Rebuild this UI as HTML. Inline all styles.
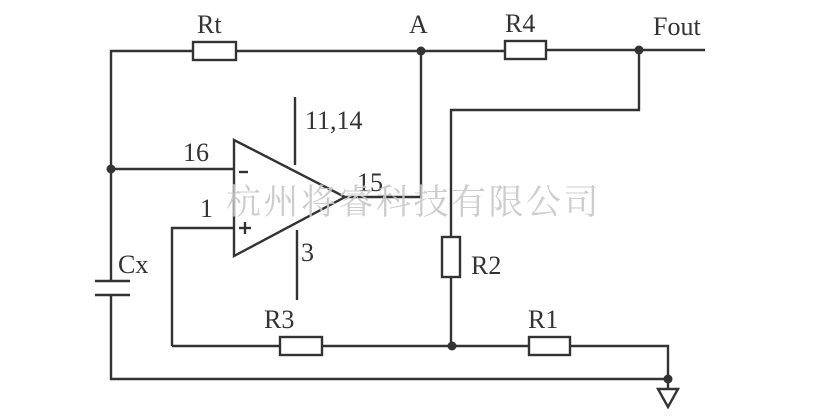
<!DOCTYPE html>
<html><head><meta charset="utf-8"><style>
body{margin:0;background:#fff;width:829px;height:413px;overflow:hidden}
text{font-family:"Liberation Serif",serif;fill:#333}
</style></head><body>
<svg width="829" height="413" viewBox="0 0 829 413" xmlns="http://www.w3.org/2000/svg">
<g stroke="#333" stroke-width="2.4" fill="none">
<polyline points="111,281 111,51 193,51"/>
<polyline points="236,51 505,51"/>
<polyline points="546,50 705,50"/>
<polyline points="639,50 639,110 451,110 451,237"/>
<polyline points="451,277 451,346"/>
<polyline points="172,346 280,346"/>
<polyline points="322,346 529,346"/>
<polyline points="570,346 668,346 668,388"/>
<polyline points="111,295 111,379 668,379"/>
<polyline points="172,346 172,228 234,228"/>
<polyline points="111,169 234,169"/>
<polygon points="234,140 234,256 345,197"/>
<polyline points="345,197 421,197 421,51"/>
<line x1="295" y1="97" x2="295" y2="165"/>
<line x1="297" y1="230" x2="297" y2="300"/>
<line x1="95" y1="281" x2="130" y2="281"/>
<line x1="95" y1="295" x2="130" y2="295"/>
<rect x="193" y="42" width="43" height="18" fill="#fff"/>
<rect x="505" y="41" width="41" height="18" fill="#fff"/>
<rect x="280" y="337" width="42" height="18" fill="#fff"/>
<rect x="529" y="337" width="41" height="18" fill="#fff"/>
<rect x="442" y="237" width="18" height="40" fill="#fff"/>
<polygon points="658,389 678,389 668,407" fill="#fff"/>
<line x1="239" y1="172" x2="248" y2="172"/>
<line x1="239" y1="228" x2="251" y2="228"/>
<line x1="245" y1="222" x2="245" y2="234"/>
</g>
<g fill="#333">
<circle cx="111" cy="169" r="4.5"/>
<circle cx="421" cy="51" r="4.5"/>
<circle cx="639" cy="50" r="4.5"/>
<circle cx="452" cy="346" r="4.5"/>
<circle cx="668" cy="379" r="4.5"/>
</g>
<g font-size="26">
<text x="197" y="33">Rt</text>
<text x="409" y="33">A</text>
<text x="505" y="32">R4</text>
<text x="653" y="35">Fout</text>
<text x="305" y="129">11,14</text>
<text x="183" y="161">16</text>
<text x="357" y="191">15</text>
<text x="200" y="217">1</text>
<text x="301" y="261">3</text>
<text x="118" y="273">Cx</text>
<text x="471" y="274">R2</text>
<text x="264" y="328">R3</text>
<text x="528" y="328">R1</text>
</g>
<text x="226" y="214" font-size="35" letter-spacing="2.5" style="fill:#c8c8c8;font-family:'Noto Serif CJK SC','Noto Sans CJK SC',serif" opacity="0.9">杭州将睿科技有限公司</text>
</svg>
</body></html>
